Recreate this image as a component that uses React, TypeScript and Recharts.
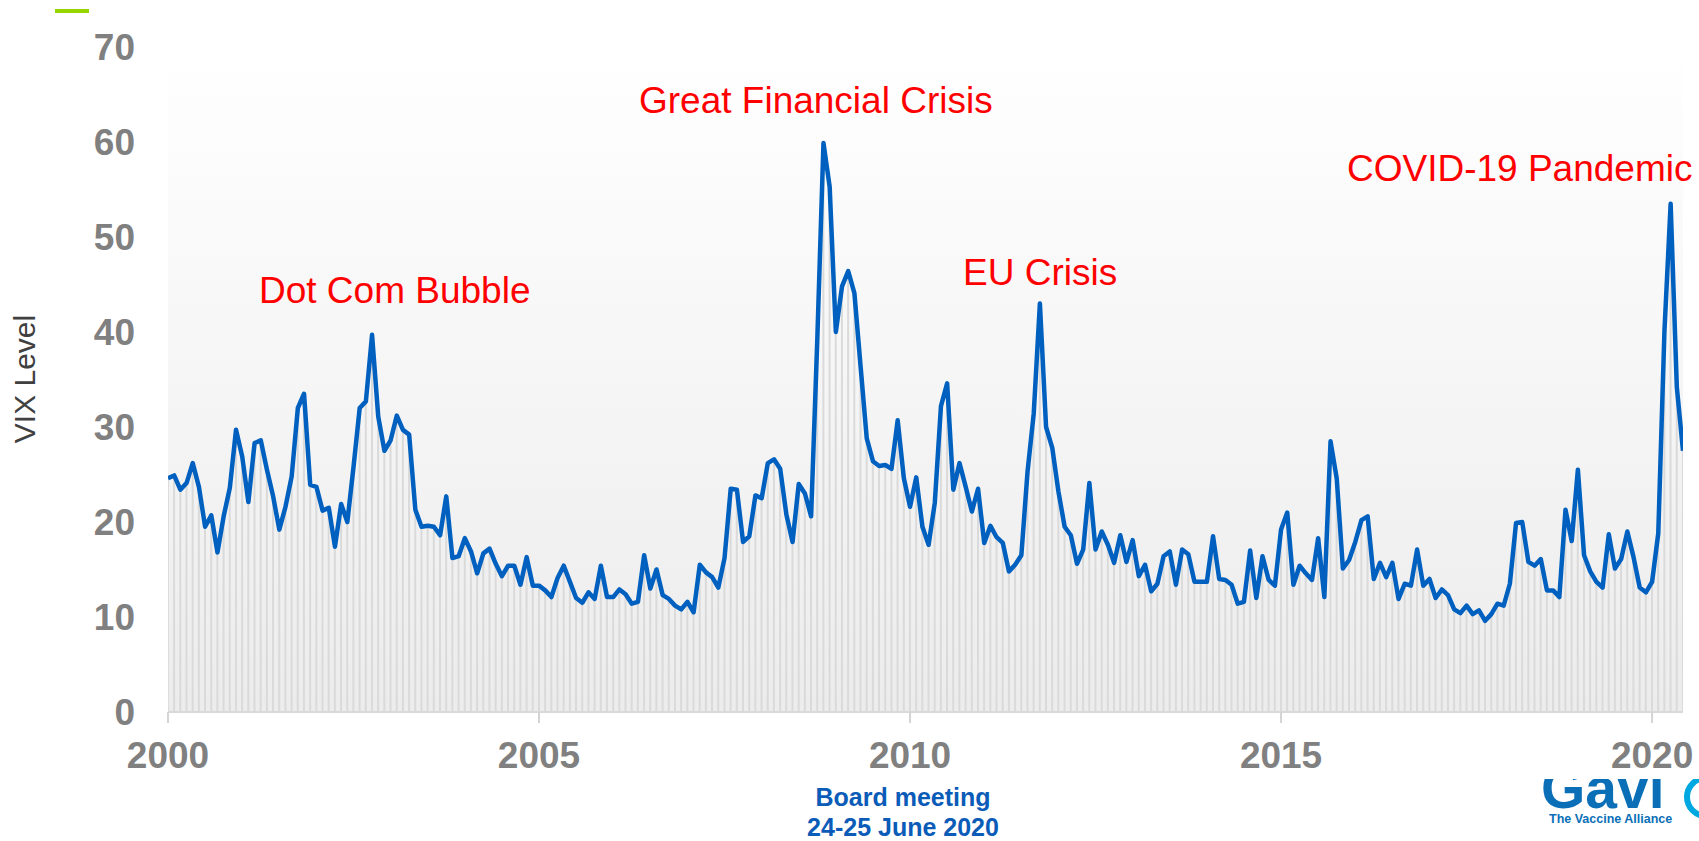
import React from 'react';
import { ComposedChart, Line, Bar, XAxis, YAxis, CartesianGrid } from 'recharts';

// Month-end VIX levels, Dec 1999 .. May 2020
const dec1999 = [24.6];
const vix2000 = [24.9, 23.4, 24.1, 26.2, 23.7, 19.5, 20.7, 16.8, 20.6, 23.6, 29.7, 26.9];
const vix2001 = [22.1, 28.3, 28.6, 25.5, 22.7, 19.2, 21.6, 24.8, 32.0, 33.5, 23.9, 23.7];
const vix2002 = [21.2, 21.5, 17.4, 21.9, 20.0, 25.8, 32.0, 32.7, 39.7, 31.1, 27.5, 28.6];
const vix2003 = [31.2, 29.7, 29.2, 21.3, 19.5, 19.6, 19.5, 18.6, 22.7, 16.2, 16.4, 18.3];
const vix2004 = [16.9, 14.6, 16.7, 17.2, 15.6, 14.3, 15.4, 15.4, 13.4, 16.3, 13.3, 13.3];
const vix2005 = [12.8, 12.1, 14.1, 15.4, 13.7, 12.0, 11.5, 12.6, 11.9, 15.4, 12.1, 12.1];
const vix2006 = [12.9, 12.4, 11.4, 11.6, 16.5, 13.0, 15.0, 12.3, 11.9, 11.2, 10.8, 11.6];
const vix2007 = [10.5, 15.5, 14.7, 14.2, 13.1, 16.2, 23.5, 23.4, 17.9, 18.5, 22.8, 22.5];
const vix2008 = [26.2, 26.6, 25.6, 20.8, 17.9, 24.0, 23.0, 20.6, 39.2, 59.9, 55.3, 40.0];
const vix2009 = [44.8, 46.4, 44.1, 36.4, 28.8, 26.4, 25.9, 26.0, 25.6, 30.7, 24.6, 21.6];
const vix2010 = [24.7, 19.5, 17.6, 22.0, 32.2, 34.6, 23.4, 26.2, 23.7, 21.1, 23.5, 17.8];
const vix2011 = [19.6, 18.4, 17.8, 14.8, 15.5, 16.5, 25.3, 31.4, 43.0, 30.0, 27.8, 23.2];
const vix2012 = [19.5, 18.6, 15.6, 17.1, 24.1, 17.1, 19.0, 17.6, 15.7, 18.6, 15.8, 18.1];
const vix2013 = [14.3, 15.5, 12.7, 13.5, 16.4, 16.9, 13.4, 17.1, 16.6, 13.7, 13.7, 13.7];
const vix2014 = [18.5, 14.0, 13.9, 13.4, 11.4, 11.6, 17.0, 12.0, 16.4, 13.9, 13.3, 19.2];
const vix2015 = [21.0, 13.4, 15.4, 14.6, 13.9, 18.3, 12.1, 28.5, 24.6, 15.1, 16.0, 17.9];
const vix2016 = [20.2, 20.6, 14.0, 15.7, 14.2, 15.7, 11.9, 13.5, 13.3, 17.1, 13.3, 14.0];
const vix2017 = [12.0, 12.9, 12.3, 10.8, 10.4, 11.2, 10.3, 10.7, 9.6, 10.3, 11.4, 11.2];
const vix2018 = [13.5, 19.9, 20.0, 15.8, 15.4, 16.1, 12.8, 12.8, 12.1, 21.3, 18.0, 25.5];
const vix2019 = [16.5, 14.8, 13.7, 13.1, 18.7, 15.1, 16.1, 19.0, 16.3, 13.1, 12.6, 13.7];
const vix2020 = [18.8, 40.1, 53.5, 34.2, 27.5];

const xTickMonths = [0, 60, 120, 180, 240];
const xTickLabels = ['2000', '2005', '2010', '2015', '2020'];
const yTicks = [0, 10, 20, 30, 40, 50, 60, 70];

const events = ['Dot Com Bubble', 'Great Financial Crisis', 'EU Crisis', 'COVID-19 Pandemic'];

const values = [
  ...dec1999, ...vix2000, ...vix2001, ...vix2002, ...vix2003, ...vix2004, ...vix2005,
  ...vix2006, ...vix2007, ...vix2008, ...vix2009, ...vix2010, ...vix2011, ...vix2012,
  ...vix2013, ...vix2014, ...vix2015, ...vix2016, ...vix2017, ...vix2018, ...vix2019, ...vix2020,
];
const data = values.map((v, i) => ({ m: i, vix: v }));

const FONT = "'Liberation Sans', Arial, Helvetica, sans-serif";

const XTick = (props: any) => {
  const { x, y, payload } = props;
  const idx = xTickMonths.indexOf(payload.value);
  return (
    <text x={x} y={y} dy={43} textAnchor="middle" fontFamily={FONT} fontWeight="bold" fontSize={37} fill="#808080">
      {idx >= 0 ? xTickLabels[idx] : ''}
    </text>
  );
};

const YTick = (props: any) => {
  const { x, y, payload } = props;
  return (
    <text x={x} y={y} dy={13} textAnchor="end" fontFamily={FONT} fontWeight="bold" fontSize={37} fill="#808080">
      {payload.value}
    </text>
  );
};

export default function App() {
  return (
    <div style={{ position: 'relative', width: 1699, height: 841, background: '#ffffff', overflow: 'hidden' }}>
      <style>{`body{margin:0;}`}</style>
      <ComposedChart
        width={1699}
        height={841}
        data={data}
        margin={{ top: 47, right: 16, bottom: 69, left: 38 }}
      >
        <defs>
          <linearGradient id="bgGrad" x1="0" y1="0" x2="0" y2="1">
            <stop offset="0%" stopColor="#ffffff" />
            <stop offset="100%" stopColor="#ececec" />
          </linearGradient>
        </defs>
        <CartesianGrid horizontal={false} vertical={false} fill="url(#bgGrad)" stroke="none" />
        <XAxis
          dataKey="m"
          type="number"
          domain={[0, 245]}
          ticks={xTickMonths}
          interval={0}
          height={60}
          axisLine={{ stroke: '#d9d9d9', strokeWidth: 2 }}
          tickLine={{ stroke: '#d4d4d4', strokeWidth: 2 }}
          tickSize={11}
          tickMargin={2}
          tick={<XTick />}
          allowDataOverflow
        />
        <YAxis
          type="number"
          domain={[0, 70]}
          ticks={yTicks}
          interval={0}
          width={130}
          axisLine={false}
          tickLine={false}
          tickSize={0}
          tickMargin={33}
          tick={<YTick />}
        />
        <Bar dataKey="vix" barSize={2} fill="#dadada" isAnimationActive={false} />
        <Line
          type="linear"
          dataKey="vix"
          stroke="#0060bf"
          strokeWidth={4.5}
          strokeLinejoin="round"
          dot={false}
          activeDot={false}
          isAnimationActive={false}
        />
      </ComposedChart>
      <svg
        width={1699}
        height={841}
        style={{ position: 'absolute', left: 0, top: 0, pointerEvents: 'none' }}
        fontFamily={FONT}
      >
        <defs>
          <clipPath id="logoClip">
            <rect x={1525} y={779} width={174} height={62} />
          </clipPath>
        </defs>
        <rect x={55} y={9} width={34} height={4} fill="#95d600" />
        <text x={0} y={0} transform="translate(35,379) rotate(-90)" textAnchor="middle" fontSize={30} fill="#404040">
          VIX Level
        </text>
        <text x={259} y={303} fontSize={37} fill="#ff0000">{events[0]}</text>
        <text x={639} y={113} fontSize={37} fill="#ff0000">{events[1]}</text>
        <text x={963} y={285} fontSize={37} fill="#ff0000">{events[2]}</text>
        <text x={1347} y={181} fontSize={37} fill="#ff0000">{events[3]}</text>
        <text x={903} y={806} textAnchor="middle" fontSize={25} fontWeight="bold" fill="#0b5cb8">Board meeting</text>
        <text x={903} y={836} textAnchor="middle" fontSize={25} fontWeight="bold" fill="#0b5cb8">24-25 June 2020</text>
        <g clipPath="url(#logoClip)">
          <text x={1541} y={808} fontSize={57} fontWeight="bold" fill="#0a6fb7">Gavi</text>
          <circle cx={1706} cy={797} r={19} fill="none" stroke="#00a8e1" strokeWidth={6} />
        </g>
        <text x={1549} y={823} fontSize={12.5} fontWeight="bold" fill="#0a6fb7">The Vaccine Alliance</text>
      </svg>
    </div>
  );
}
